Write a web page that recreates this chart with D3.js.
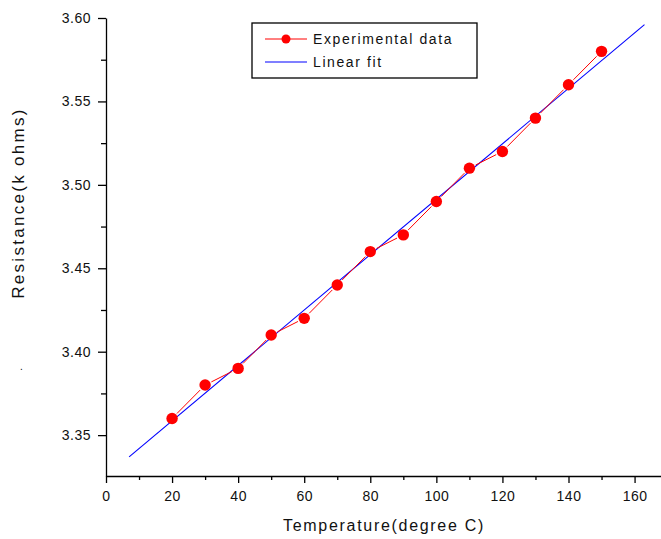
<!DOCTYPE html>
<html><head><meta charset="utf-8">
<script src="https://cdn.jsdelivr.net/npm/d3@7"></script>
<style>body{margin:0;background:#fff}svg{display:block}text{font-family:"Liberation Sans",Arial,sans-serif;fill:#111}</style>
</head><body><svg id="c" width="661" height="539"></svg>
<script>
const temps = [20,30,40,50,60,70,80,90,100,110,120,130,140,150];
const resist = [3.36,3.38,3.39,3.41,3.42,3.44,3.46,3.47,3.49,3.51,3.52,3.54,3.56,3.58];
const fitX = [7,163];
const fitY = [3.337,3.596];
const xTicks = [0,20,40,60,80,100,120,140,160];
const yTicks = [3.35,3.40,3.45,3.50,3.55,3.60];
const legendLabels = ["Experimental data","Linear fit"];

const svg = d3.select("#c");
const x = d3.scaleLinear().domain([0,168]).range([106,661]);
const y = d3.scaleLinear().domain([3.3255,3.60]).range([476,18]);

const xMinor = d3.range(10,170,20);
const yMinor = [3.375,3.425,3.475,3.525,3.575];

const xAxis = svg.append("g").attr("transform","translate(0,476)")
  .call(d3.axisBottom(x).tickValues(xTicks).tickFormat(d3.format("d")).tickSizeInner(7).tickSizeOuter(0).tickPadding(8));
xAxis.select(".domain").attr("stroke","#000").attr("stroke-width",1.3);
xAxis.selectAll(".tick line").attr("stroke","#000").attr("stroke-width",1.3);
xAxis.selectAll("text").attr("font-size",14).attr("letter-spacing","0.5px").attr("font-family","Liberation Sans,Arial,sans-serif").attr("fill","#111");
svg.append("g").attr("transform","translate(0,476)")
  .call(d3.axisBottom(x).tickValues(xMinor).tickFormat("").tickSizeInner(4).tickSizeOuter(0))
  .call(g=>{g.select(".domain").remove(); g.selectAll(".tick line").attr("stroke","#000").attr("stroke-width",1.3);});

const yAxis = svg.append("g").attr("transform","translate(106,0)")
  .call(d3.axisLeft(y).tickValues(yTicks).tickFormat(d3.format(".2f")).tickSizeInner(8).tickSizeOuter(0).tickPadding(7));
yAxis.select(".domain").attr("stroke","#000").attr("stroke-width",1.3);
yAxis.selectAll(".tick line").attr("stroke","#000").attr("stroke-width",1.3);
yAxis.selectAll("text").attr("font-size",14).attr("letter-spacing","0.5px").attr("font-family","Liberation Sans,Arial,sans-serif").attr("fill","#111");
svg.append("g").attr("transform","translate(106,0)")
  .call(d3.axisLeft(y).tickValues(yMinor).tickFormat("").tickSizeInner(5).tickSizeOuter(0))
  .call(g=>{g.select(".domain").remove(); g.selectAll(".tick line").attr("stroke","#000").attr("stroke-width",1.3);});

svg.append("line")
  .attr("x1",x(fitX[0])).attr("y1",y(fitY[0]))
  .attr("x2",x(fitX[1])).attr("y2",y(fitY[1]))
  .attr("stroke","#0000ff").attr("stroke-width",1.1);

const pts = temps.map((t,i)=>[x(t),y(resist[i])]);
const gap = 7;
for (let i=0;i<pts.length-1;i++){
  const [x1,y1]=pts[i],[x2,y2]=pts[i+1];
  const dx=x2-x1,dy=y2-y1,L=Math.hypot(dx,dy);
  const ux=dx/L,uy=dy/L;
  svg.append("line")
    .attr("x1",x1+ux*gap).attr("y1",y1+uy*gap)
    .attr("x2",x2-ux*gap).attr("y2",y2-uy*gap)
    .attr("stroke","#ff0000").attr("stroke-width",1);
}
svg.append("g").selectAll("circle").data(temps).join("circle")
  .attr("cx",(d)=>x(d)).attr("cy",(d,i)=>y(resist[i])).attr("r",5.7).attr("fill","#ff0000");

svg.append("text").attr("x",384).attr("y",531).attr("text-anchor","middle")
  .attr("font-size",16).attr("letter-spacing","1.7px").text("Temperature(degree C)");
svg.append("text").attr("transform","translate(24,203) rotate(-90)").attr("text-anchor","middle")
  .attr("font-size",17).attr("letter-spacing","2.3px").text("Resistance(k ohms)");
svg.append("text").attr("x",20).attr("y",370).attr("font-size",10).text(".");

const lg = svg.append("g");
lg.append("rect").attr("x",252).attr("y",23).attr("width",225).attr("height",55)
  .attr("fill","#fff").attr("stroke","#000").attr("stroke-width",1.3);
lg.append("line").attr("x1",265).attr("x2",307).attr("y1",39).attr("y2",39).attr("stroke","#ff0000").attr("stroke-width",1);
lg.append("circle").attr("cx",286).attr("cy",39).attr("r",4.5).attr("fill","#ff0000");
lg.append("line").attr("x1",265).attr("x2",307).attr("y1",62).attr("y2",62).attr("stroke","#0000ff").attr("stroke-width",1.1);
lg.selectAll("text.l").data(legendLabels).join("text").attr("class","l")
  .attr("x",313).attr("y",(d,i)=>44+i*23).attr("font-size",14).attr("letter-spacing","1.6px").text(d=>d);
</script></body></html>
